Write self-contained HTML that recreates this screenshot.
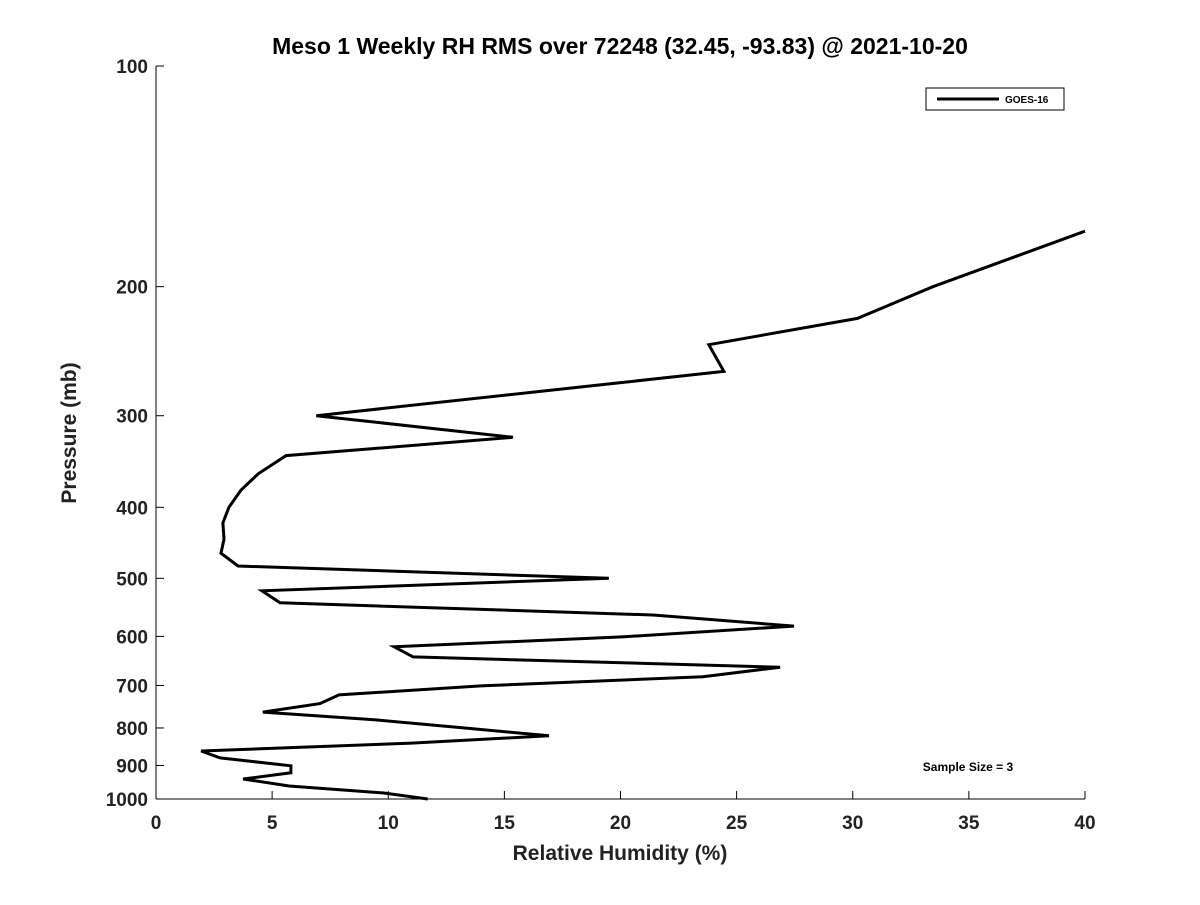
<!DOCTYPE html>
<html><head><meta charset="utf-8"><style>
body{margin:0;background:#fff;}
svg{font-family:"Liberation Sans","DejaVu Sans",sans-serif;font-weight:bold;}
</style></head><body>
<svg id="chart" width="1200" height="900">
<rect width="1200" height="900" fill="#fff"/>
<text x="620" y="54" text-anchor="middle" font-size="23" fill="#000">Meso 1 Weekly RH RMS over 72248 (32.45, -93.83) @ 2021-10-20</text>
<g id="axes"></g>
<text x="620" y="860" text-anchor="middle" font-size="21" fill="#222">Relative Humidity (%)</text>
<text transform="translate(76,433) rotate(-90)" text-anchor="middle" font-size="21" fill="#222">Pressure (mb)</text>
<g>
<rect x="926" y="88" width="138" height="22" fill="#fff" stroke="#000" stroke-width="1"/>
<line x1="937" y1="99" x2="999" y2="99" stroke="#000" stroke-width="3"/>
<text x="1005" y="103" font-size="10" fill="#000">GOES-16</text>
</g>
<text x="968" y="771" text-anchor="middle" font-size="12" fill="#000">Sample Size = 3</text>
</svg>
<script>
const xTicks=[0,5,10,15,20,25,30,35,40];
const yTicks=[100,200,300,400,500,600,700,800,900,1000];
const rhValues=[40,33.45,30.2,23.8,24.45,6.9,15.37,5.6,4.4,3.66,3.14,2.88,2.93,2.8,3.53,19.5,4.56,5.34,21.4,27.47,20.06,10.25,11.07,26.87,23.55,13.99,7.88,7.06,4.6,9.47,13.3,16.92,11.0,1.94,2.76,5.81,5.81,3.75,5.73,9.77,11.7];
const pressures=[168,200,221,240,261,300,321,340,360,379,400,420,442,462,481,500,520,540,561,581,601,620,640,661,681,701,721,741,761,780,800,820,839,860,879,901,921,939,960,981,1000];
const X0=156,X1=1085,Y0=66,Y1=799;
const xs=v=>X0+(v-0)/(40-0)*(X1-X0);
const ys=p=>Y0+(Math.log10(p)-2)/1*(Y1-Y0);
const NS="http://www.w3.org/2000/svg";
const svg=document.getElementById('chart');
const g=document.getElementById('axes');
function mk(t,a){const e=document.createElementNS(NS,t);for(const k in a)e.setAttribute(k,a[k]);return e;}
let ax=mk('line',{x1:X0,y1:Y1,x2:X1,y2:Y1,stroke:'#000','stroke-width':1});


g.appendChild(ax);
let ay=mk('line',{x1:X0,y1:Y0,x2:X0,y2:Y1,stroke:'#000','stroke-width':1});


g.appendChild(ay);
xTicks.forEach(v=>{
 const x=xs(v);
 g.appendChild(mk('line',{x1:x,y1:Y1,x2:x,y2:Y1-8,stroke:'#000'}));
 const t=mk('text',{x:x,y:Y1+30,'text-anchor':'middle','font-size':19,fill:'#222'});
 t.textContent=v;
 
 
 g.appendChild(t);
});
yTicks.forEach(p=>{
 const y=ys(p);
 g.appendChild(mk('line',{x1:X0,y1:y,x2:X0+8,y2:y,stroke:'#000'}));
 const t=mk('text',{x:X0-8,y:y+7,'text-anchor':'end','font-size':19,fill:'#222'});
 t.textContent=p;
 
 
 g.appendChild(t);
});
const pts=rhValues.map((v,i)=>xs(v).toFixed(1)+','+ys(pressures[i]).toFixed(1)).join(' ');
const line=mk('polyline',{points:pts,fill:'none',stroke:'#000','stroke-width':3,'stroke-linejoin':'miter'});


svg.appendChild(line);
</script>
</body></html>
